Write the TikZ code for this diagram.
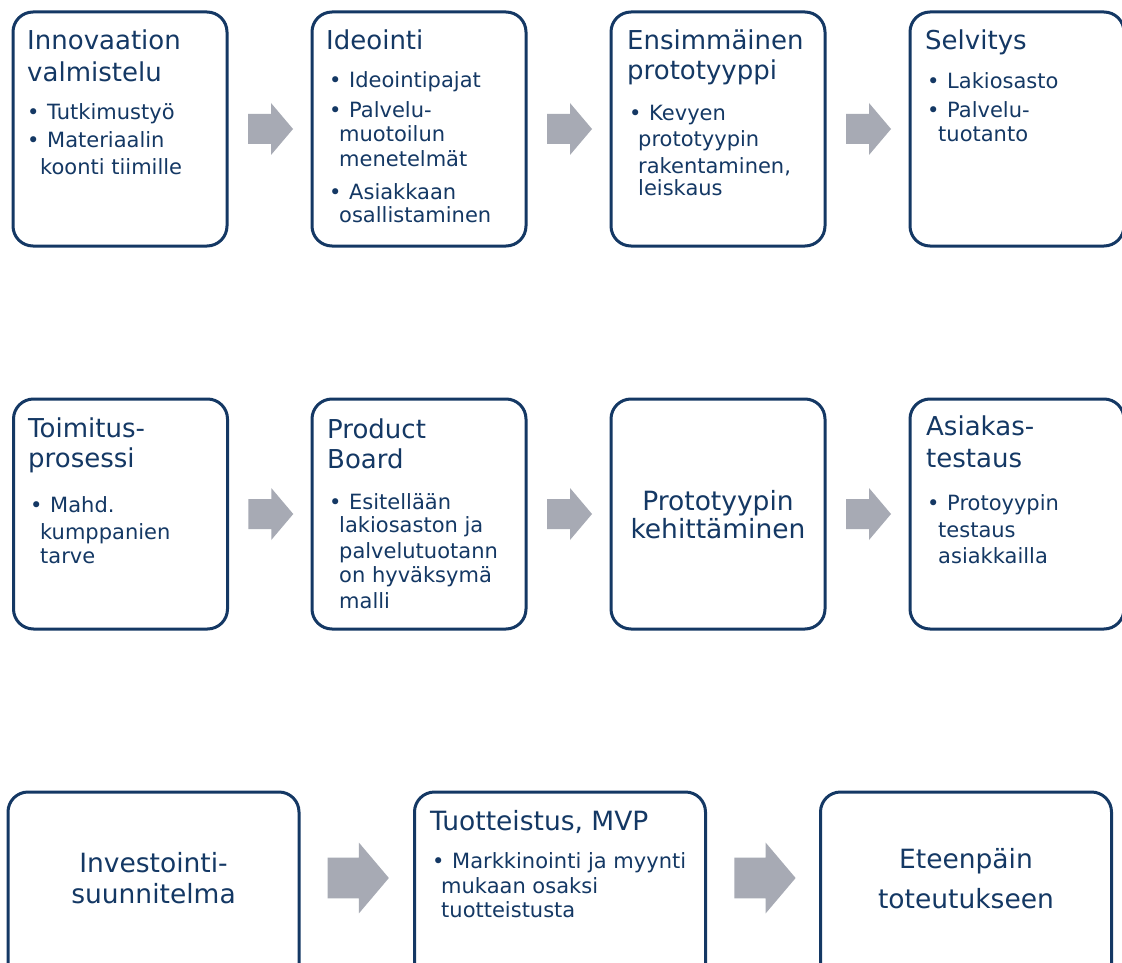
\documentclass[tikz,border=0pt]{standalone}
\usepackage{fontspec}
\setmainfont{DejaVu Sans}
\usetikzlibrary{calc}
\definecolor{navy}{HTML}{143864}
\definecolor{agray}{HTML}{A7AAB4}
\newcommand\bu{\makebox[20pt][l]{•}}
\newcommand\txtlines[3]{\foreach \lx/\ly/\lt [count=\li] in {#3} {\node[#2] (#1-\li) at (\lx,\ly) {\lt};}}
\tikzset{
  box/.style={draw=navy, line width=3pt, rounded corners=20pt, fill=white, inner sep=0pt},
  row1/.style={box, minimum width=214pt, minimum height=234pt},
  row2/.style={box, minimum width=214pt, minimum height=230pt},
  row3/.style={box, minimum width=291pt, minimum height=234pt},
  ttl/.style={font=\fontsize{26}{30}\selectfont, text=navy, inner sep=0pt, anchor=base west},
  itm/.style={font=\fontsize{21}{24}\selectfont, text=navy, inner sep=0pt, anchor=base west},
  big/.style={font=\fontsize{26.5}{30}\selectfont, text=navy, inner sep=0pt, anchor=base},
  bigw/.style={font=\fontsize{26.5}{30}\selectfont, text=navy, inner sep=0pt, anchor=base west},
  barrow/.pic={\fill[agray] (-22.5,-15) -- (0.5,-15) -- (0.5,-26) -- (22.5,0) -- (0.5,26) -- (0.5,15) -- (-22.5,15) -- cycle;}
}
\begin{document}
\begin{tikzpicture}[x=1pt,y=-1pt]
\clip (0,0) rectangle (1122,963);
\fill[white] (0,0) rectangle (1122,963);
% row 1
\node[row1] (r1a) at (120,129) {};
\node[row1] (r1b) at (419,129) {};
\node[row1] (r1c) at (718,129) {};
\node[row1] (r1d) at (1017,129) {};
% row 2
\node[row2] (r2a) at (120.5,514) {};
\node[row2] (r2b) at (419,514) {};
\node[row2] (r2c) at (718,514) {};
\node[row2] (r2d) at (1017,514) {};
% row 3
\node[row3] (r3a) at (153.5,909) {};
\node[row3] (r3b) at (560,909) {};
\node[row3] (r3c) at (966,909) {};
% arrows
\pic at ($(r1a.east)!0.5!(r1b.west)+(1,0)$) {barrow};
\pic at ($(r1b.east)!0.5!(r1c.west)+(1,0)$) {barrow};
\pic at ($(r1c.east)!0.5!(r1d.west)+(1,0)$) {barrow};
\pic at ($(r2a.east)!0.5!(r2b.west)+(1,0)$) {barrow};
\pic at ($(r2b.east)!0.5!(r2c.west)+(1,0)$) {barrow};
\pic at ($(r2c.east)!0.5!(r2d.west)+(1,0)$) {barrow};
\pic[scale=1.36] at ($(r3a.east)!0.5!(r3b.west)+(1.5,-31)$) {barrow};
\pic[scale=1.36] at ($(r3b.east)!0.5!(r3c.west)+(2,-31)$) {barrow};
% texts row 1
\txtlines{t1a}{ttl}{27/50/Innovaation, 27/82/valmistelu}
\txtlines{i1a}{itm}{27/120/\bu Tutkimustyö, 27/148/\bu Materiaalin, 40/175/koonti tiimille}
\txtlines{t1b}{ttl}{326/50/Ideointi}
\txtlines{i1b}{itm}{329/88/\bu Ideointipajat, 329/118/\bu Palvelu-, 339/142/muotoilun, 339/167/menetelmät, 329/199/\bu Asiakkaan, 339/222/osallistaminen}
\txtlines{t1c}{ttl}{627/50/Ensimmäinen, 627/80/prototyyppi}
\txtlines{i1c}{itm}{629/121/\bu Kevyen, 638/147/prototyypin, 638/173/{rakentaminen,}, 638/196/leiskaus}
\txtlines{t1d}{ttl}{925/50/Selvitys}
\txtlines{i1d}{itm}{927/89/\bu Lakiosasto, 927/118/\bu Palvelu-, 938/142/tuotanto}
% texts row 2
\txtlines{t2a}{ttl}{28/437/Toimitus-, 28/467/prosessi}
\txtlines{i2a}{itm}{30/512/\bu Mahd., 40/539/kumppanien, 40/563/tarve}
\txtlines{t2b}{ttl}{327/438/Product, 327/468/Board}
\txtlines{i2b}{itm}{329/509/\bu Esitellään, 339/532/lakiosaston ja, 339/558/palvelutuotann, 339/582/on hyväksymä, 339/608/malli}
\txtlines{t2c}{big}{718/510/Prototyypin, 718/538/kehittäminen}
\txtlines{t2d}{ttl}{926/435/Asiakas-, 926/467/testaus}
\txtlines{i2d}{itm}{927/510/\bu Protoyypin, 938/537/testaus, 938/563/asiakkailla}
% texts row 3
\txtlines{t3a}{big}{153.5/872/Investointi-, 153.5/903/suunnitelma}
\txtlines{t3b}{bigw}{430/830/{Tuotteistus, MVP}}
\txtlines{i3b}{itm}{432/868/\bu Markkinointi ja myynti, 441/893/mukaan osaksi, 441/917/tuotteistusta}
\txtlines{t3c}{big}{966/868/Eteenpäin, 966/908/toteutukseen}
\end{tikzpicture}
\end{document}
